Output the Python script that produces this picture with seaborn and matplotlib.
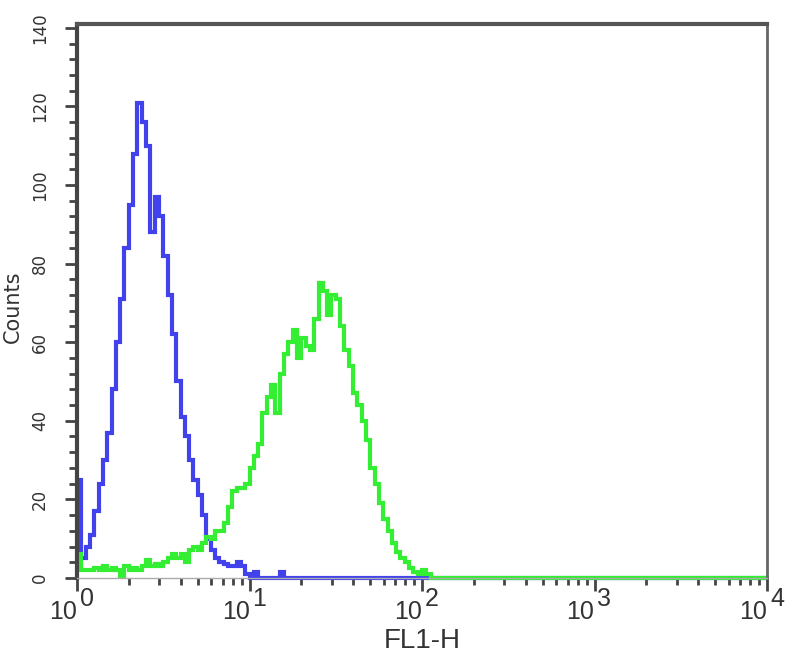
import numpy as np
import pandas as pd
import matplotlib
matplotlib.use("Agg")
import matplotlib.pyplot as plt
import matplotlib.transforms as mtransforms
import seaborn as sns
from matplotlib.ticker import MultipleLocator, LogLocator, NullFormatter

# histogram channels: 40 per decade over 10^0 .. 10^4
N_BINS = 160
BINS_PER_DECADE = 40

# counts per channel (remaining channels are empty)
blue_active = [25, 5, 8, 11, 17, 24, 30, 37, 48, 60,
               71, 84, 95, 108, 121, 116, 110, 88, 97, 92,
               82, 72, 62, 50, 41, 36, 30, 25, 21, 16,
               10, 7, 5, 4, 3.5, 3, 3, 4, 3, 1,
               0, 1.5, 0, 0, 0, 0, 0, 1.5]
green_active = [6, 2, 2, 2, 2.5, 2, 3, 2, 2.5, 2,
                0.5, 3, 2, 2.5, 2, 3, 4.5, 3, 3.5, 3,
                4, 5, 6, 5, 6, 4, 7, 8, 7, 9,
                10.5, 10, 12, 12, 14, 18, 22, 23, 23, 24,
                28, 31, 34, 42, 46, 49, 42, 52, 57, 60,
                63, 56, 61, 59, 58, 66, 75, 73, 67, 72,
                71, 64, 58, 54, 47, 44, 40, 35, 28, 24,
                19, 15, 12, 9, 6.5, 5, 4, 2.5, 1.5, 1,
                2, 1]

blue_counts = blue_active + [0] * (N_BINS - len(blue_active))
green_counts = green_active + [0] * (N_BINS - len(green_active))

y_ticks = [0, 20, 40, 60, 80, 100, 120, 140]
x_ticks = [1, 10, 100, 1000, 10000]
x_exponents = ["0", "1", "2", "3", "4"]

# channel left edges, plus closing edge at 10^4
edges = 10 ** (np.arange(N_BINS + 1) / BINS_PER_DECADE)
df = pd.DataFrame({
    "FL1-H": np.concatenate([edges, edges]),
    "Counts": blue_counts + blue_counts[-1:] + green_counts + green_counts[-1:],
    "sample": ["control"] * (N_BINS + 1) + ["stained"] * (N_BINS + 1),
})

sns.set_theme(style="white")
plt.rcParams["font.family"] = ["Liberation Sans", "DejaVu Sans"]
txt = "#333333"

fig = plt.figure(figsize=(8, 6.56), dpi=100)
ax = fig.add_axes([0.09625, 0.119, 0.8625, 0.8445])

sns.lineplot(data=df, x="FL1-H", y="Counts", hue="sample",
             palette={"control": "#4242ec", "stained": "#33ee33"},
             drawstyle="steps-post", linewidth=3, legend=False,
             estimator=None, sort=False, ax=ax)
for ln in ax.lines:
    ln.set_clip_on(False)
    ln.set_solid_joinstyle("miter")

ax.set_xscale("log")
ax.set_xlim(1, 10000)
ax.set_ylim(0, 141)

# x tick labels: "10" with a full-size exponent next to it
ax.set_xticks(x_ticks)
ax.set_xticklabels(["10"] * len(x_ticks), fontsize=18, color=txt, ha="right")
shift = mtransforms.ScaledTranslation(3 / 100, 0, fig.dpi_scale_trans)
for lab in ax.get_xticklabels():
    lab.set_transform(lab.get_transform() + shift)
exp_tr = mtransforms.offset_copy(ax.get_xaxis_transform(), fig=fig,
                                 x=3, y=-9, units="dots")
for xt, ex in zip(x_ticks, x_exponents):
    ax.text(xt, 0, ex, transform=exp_tr, ha="left", va="top",
            fontsize=18, color=txt)
ax.xaxis.set_minor_locator(LogLocator(base=10, subs=np.arange(2, 10)))
ax.xaxis.set_minor_formatter(NullFormatter())

ax.set_yticks(y_ticks)
ax.set_yticklabels([str(v) for v in y_ticks], rotation=90, va="center",
                   fontsize=12, color=txt, family="DejaVu Sans")
ax.yaxis.set_minor_locator(MultipleLocator(4))

ax.tick_params(axis="y", which="major", direction="out", length=9, width=2,
               color="#444444", left=True, pad=11)
ax.tick_params(axis="y", which="minor", direction="out", length=5.5, width=2,
               color="#444444", left=True)
ax.tick_params(axis="x", which="major", direction="out", length=9, width=2,
               color="#444444", bottom=True, pad=7)
ax.tick_params(axis="x", which="minor", direction="out", length=5, width=2,
               color="#444444", bottom=True)

ax.spines["left"].set_linewidth(3)
ax.spines["left"].set_color("#444444")
ax.spines["top"].set_linewidth(3)
ax.spines["top"].set_color("#555555")
ax.spines["right"].set_linewidth(2)
ax.spines["right"].set_color("#666666")
ax.spines["bottom"].set_linewidth(1)
ax.spines["bottom"].set_color("#aaaaaa")

ax.set_xlabel("FL1-H", fontsize=20, color=txt)
ax.xaxis.set_label_coords(0.5, -0.09)
ax.set_ylabel("Counts", fontsize=15, color=txt, family="DejaVu Sans")
ax.yaxis.set_label_coords(-0.078, 0.49)

fig.savefig("out.png", dpi=100)
